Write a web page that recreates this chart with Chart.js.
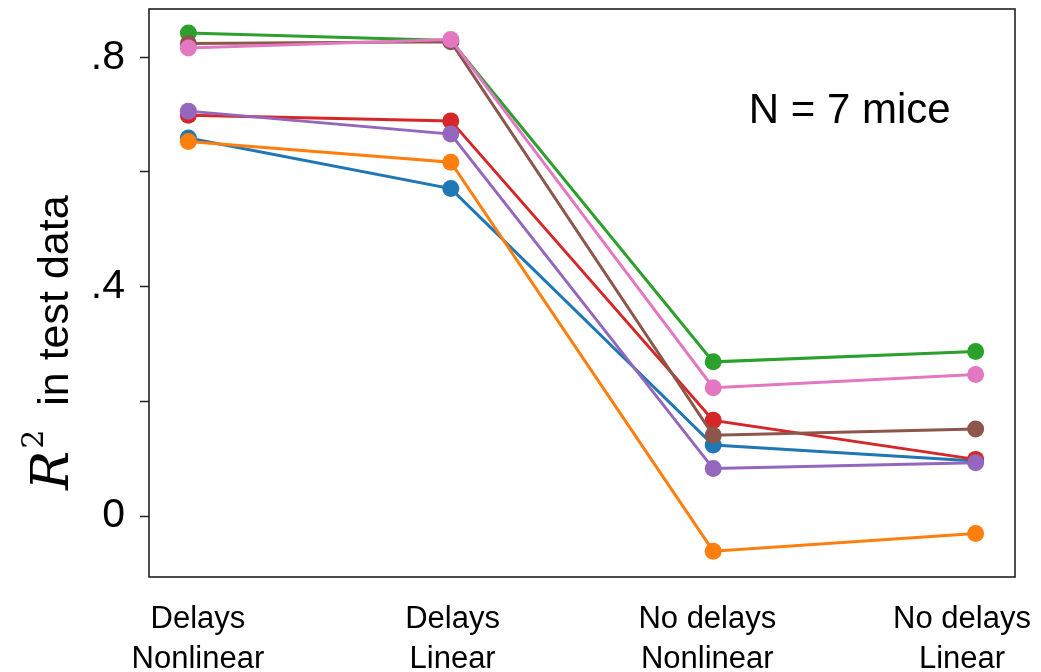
<!DOCTYPE html>
<html>
<head>
<meta charset="utf-8">
<script src="https://cdn.jsdelivr.net/npm/chart.js@4.4.1/dist/chart.umd.min.js"></script>
<style>
  html, body { margin: 0; padding: 0; background: #ffffff; }
  #wrap { width: 1041px; height: 672px; position: relative; }
</style>
</head>
<body>
<div id="wrap"><canvas id="c" width="1041" height="672"></canvas></div>
<script>
// Model conditions along the x axis
const categories = [
  ['Delays', 'Nonlinear'],
  ['Delays', 'Linear'],
  ['No delays', 'Nonlinear'],
  ['No delays', 'Linear']
];

// R^2 on held-out data, one series per mouse
const mouse1 = [0.659, 0.571, 0.124, 0.096];
const mouse2 = [0.653, 0.617, -0.061, -0.030];
const mouse3 = [0.842, 0.829, 0.269, 0.287];
const mouse4 = [0.699, 0.689, 0.167, 0.099];
const mouse5 = [0.706, 0.666, 0.083, 0.093];
const mouse6 = [0.824, 0.827, 0.141, 0.152];
const mouse7 = [0.816, 0.831, 0.224, 0.247];

const seriesList = [mouse1, mouse2, mouse3, mouse4, mouse5, mouse6, mouse7];
const seriesColors = ['#1f77b4', '#ff7f0e', '#2ca02c', '#d62728', '#9467bd', '#8c564b', '#e377c2'];

// y axis ticks
const yTickValues = [0, 0.2, 0.4, 0.6, 0.8];
const yTickLabels = ['0', '', '.4', '', '.8'];

const annotationText = 'N = 7 mice';

const datasets = seriesList.map((vals, i) => ({
  label: 'mouse ' + (i + 1),
  data: vals.map((v, k) => ({ x: k, y: v })),
  borderColor: seriesColors[i],
  backgroundColor: seriesColors[i],
  pointBackgroundColor: seriesColors[i],
  pointBorderWidth: 0,
  pointRadius: 8.5,
  borderWidth: 3,
  showLine: true,
  tension: 0,
  order: seriesList.length - i
}));

// frame around the plotting area
const framePlugin = {
  id: 'frame',
  afterDraw(chart) {
    const { ctx, chartArea: a } = chart;
    ctx.save();
    ctx.strokeStyle = '#222222';
    ctx.lineWidth = 1.6;
    ctx.strokeRect(a.left, a.top, a.right - a.left, a.bottom - a.top);
    ctx.restore();
  }
};

// y axis title with an italic serif R^2 followed by sans text
const yTitlePlugin = {
  id: 'yTitle',
  afterDraw(chart) {
    const ctx = chart.ctx;
    ctx.save();
    ctx.translate(68, 490);
    ctx.rotate(-Math.PI / 2);
    ctx.fillStyle = '#000000';
    ctx.textBaseline = 'alphabetic';
    ctx.textAlign = 'left';
    ctx.font = 'italic 52px "DejaVu Serif", "Liberation Serif", serif';
    ctx.fillText('R', 0, 0);
    let x = ctx.measureText('R').width + 2;
    ctx.font = '30px "DejaVu Serif", "Liberation Serif", serif';
    ctx.fillText('2', x, -25);
    x += ctx.measureText('2').width + 24;
    ctx.font = '43px "Liberation Sans", Arial, sans-serif';
    ctx.fillText('in test data', x, 0);
    ctx.restore();
  }
};

// annotation placed in data coordinates
const notePlugin = {
  id: 'note',
  afterDraw(chart) {
    const ctx = chart.ctx;
    const xs = chart.scales.x, ys = chart.scales.y;
    ctx.save();
    ctx.fillStyle = '#000000';
    ctx.font = '42px "Liberation Sans", Arial, sans-serif';
    ctx.textAlign = 'center';
    ctx.textBaseline = 'middle';
    ctx.fillText(annotationText, xs.getPixelForValue(2.52), ys.getPixelForValue(0.705));
    ctx.restore();
  }
};

new Chart(document.getElementById('c'), {
  type: 'scatter',
  data: { datasets },
  options: {
    responsive: false,
    animation: false,
    events: [],
    layout: { padding: { top: 9, right: 26, left: 0, bottom: 0 } },
    plugins: {
      legend: { display: false },
      tooltip: { enabled: false }
    },
    scales: {
      // data axis for the condition index
      x: {
        type: 'linear',
        display: false,
        min: -0.15,
        max: 3.15
      },
      // category label axis, spaced a little tighter than the data axis
      xLabels: {
        type: 'linear',
        position: 'bottom',
        min: -0.192,
        max: 3.208,
        afterBuildTicks(scale) {
          scale.ticks = categories.map((_, i) => ({ value: i }));
        },
        afterFit(scale) {
          scale.height = 95;
          scale.paddingLeft = 0;
          scale.paddingRight = 0;
        },
        ticks: {
          autoSkip: false,
          maxRotation: 0,
          padding: 22,
          color: '#000000',
          font: { family: '"Liberation Sans", Arial, sans-serif', size: 31, lineHeight: 1.3 },
          callback: (v) => categories[Math.round(v)] || ''
        },
        grid: { display: false, drawTicks: false },
        border: { display: false }
      },
      y: {
        type: 'linear',
        min: -0.106,
        max: 0.884,
        afterBuildTicks(scale) {
          scale.ticks = yTickValues.map(v => ({ value: v }));
        },
        afterFit(scale) {
          scale.width = 149;
          scale.paddingTop = 0;
          scale.paddingBottom = 0;
        },
        ticks: {
          autoSkip: false,
          padding: 15,
          color: '#000000',
          font: { family: '"Liberation Sans", Arial, sans-serif', size: 41 },
          callback: (v) => {
            const idx = yTickValues.findIndex(t => Math.abs(t - v) < 1e-9);
            return idx >= 0 ? yTickLabels[idx] : '';
          }
        },
        grid: {
          drawOnChartArea: false,
          drawTicks: true,
          tickLength: 9,
          tickWidth: 1.5,
          tickColor: '#222222'
        },
        border: { display: false }
      }
    }
  },
  plugins: [framePlugin, yTitlePlugin, notePlugin]
});
</script>
</body>
</html>
